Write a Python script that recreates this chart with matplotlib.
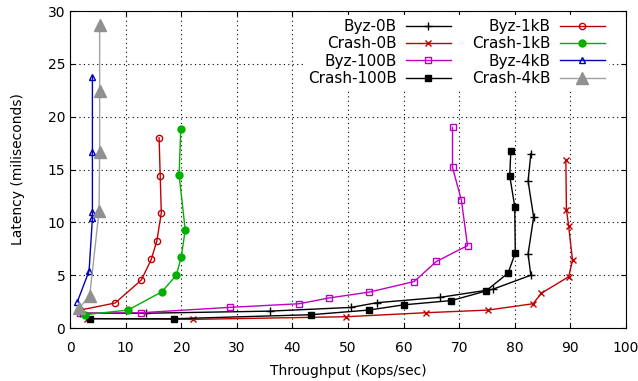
import matplotlib
matplotlib.use('Agg')
import matplotlib.pyplot as plt

# throughput (Kops/sec) and latency (ms) per configuration
byz_0b_x = [1.8, 13.6, 35.9, 50.5, 55.2, 66.5, 76.0, 82.9, 82.4, 83.4, 82.4, 82.9]
byz_0b_y = [1.4, 1.4, 1.6, 1.95, 2.4, 2.9, 3.66, 5.0, 7.0, 10.5, 13.9, 16.5]

crash_0b_x = [3.0, 22.1, 49.6, 64.0, 75.2, 83.3, 84.8, 89.7, 90.4, 89.7, 89.3, 89.2]
crash_0b_y = [0.9, 0.82, 1.07, 1.45, 1.7, 2.3, 3.3, 4.85, 6.4, 9.65, 11.2, 15.9]

byz_100b_x = [1.8, 12.8, 28.8, 41.2, 46.5, 53.8, 61.9, 65.9, 71.5, 70.4, 68.8, 68.8]
byz_100b_y = [1.4, 1.45, 1.96, 2.3, 2.84, 3.4, 4.4, 6.3, 7.8, 12.1, 15.2, 19.0]

crash_100b_x = [3.6, 18.6, 43.3, 53.7, 60.1, 68.6, 74.8, 78.8, 80.1, 80.0, 79.1, 79.3]
crash_100b_y = [0.88, 0.88, 1.26, 1.7, 2.2, 2.6, 3.5, 5.2, 7.1, 11.5, 14.4, 16.8]

byz_1kb_x = [1.8, 8.1, 12.8, 14.6, 15.6, 16.4, 16.2, 16.0]
byz_1kb_y = [1.7, 2.37, 4.54, 6.5, 8.26, 10.9, 14.4, 18.0]

crash_1kb_x = [2.6, 10.4, 16.5, 19.1, 20.0, 20.7, 19.6, 19.9]
crash_1kb_y = [1.26, 1.7, 3.43, 5.0, 6.75, 9.3, 14.5, 18.8]

byz_4kb_x = [1.3, 3.4, 4.0, 4.0, 4.0, 4.0]
byz_4kb_y = [2.5, 5.4, 10.4, 11.0, 16.7, 23.8]

crash_4kb_x = [1.6, 3.5, 5.2, 5.3, 5.3, 5.3]
crash_4kb_y = [1.9, 3.0, 11.1, 16.7, 22.4, 28.7]

x_ticks = list(range(0, 101, 10))
y_ticks = list(range(0, 31, 5))

fig = plt.figure(figsize=(6.38, 3.81), dpi=100)
ax = fig.add_axes([0.11, 0.139, 0.871, 0.832])

ax.plot(byz_0b_x, byz_0b_y, color='black', lw=1, marker='+', ms=6, label='Byz-0B')
ax.plot(crash_0b_x, crash_0b_y, color='#c00000', lw=1, marker='x', ms=5, label='Crash-0B')
ax.plot(byz_100b_x, byz_100b_y, color='#c000c0', lw=1, marker='s', ms=4.5, mfc='none', label='Byz-100B')
ax.plot(crash_100b_x, crash_100b_y, color='black', lw=1, marker='s', ms=5, label='Crash-100B')
ax.plot(byz_1kb_x, byz_1kb_y, color='#c00000', lw=1, marker='o', ms=4.5, mfc='none', label='Byz-1kB')
ax.plot(crash_1kb_x, crash_1kb_y, color='#00b000', lw=1, marker='o', ms=5, label='Crash-1kB')
ax.plot(byz_4kb_x, byz_4kb_y, color='#0000c0', lw=1, marker='^', ms=4.5, mfc='none', label='Byz-4kB')
ax.plot(crash_4kb_x, crash_4kb_y, color='#a0a0a0', lw=1, marker='^', mfc='#909090', mec='#909090', ms=9, label='Crash-4kB')

ax.set_xlim(0, 100)
ax.set_ylim(0, 30)
ax.set_xticks(x_ticks)
ax.set_yticks(y_ticks)
ax.tick_params(direction='in', top=True, right=True, labelsize=10)
ax.tick_params(axis='x', pad=9)
ax.grid(True, linestyle=(0, (1, 3)), color='black', lw=0.8)
ax.set_xlabel('Throughput (Kops/sec)', fontsize=10, labelpad=6.5)
ax.set_ylabel('Latency (miliseconds)', fontsize=10, labelpad=16)

leg = ax.legend(ncol=2, loc='upper right', bbox_to_anchor=(0.9705, 0.989), borderaxespad=0,
                markerfirst=False, frameon=True, fontsize=11, handlelength=2.95,
                handletextpad=0.6, labelspacing=0.15, columnspacing=1.4, borderpad=0.3)
leg.get_frame().set_edgecolor('none')
leg.get_frame().set_facecolor('white')
leg.get_frame().set_alpha(1)

plt.savefig('out.png', dpi=100)
